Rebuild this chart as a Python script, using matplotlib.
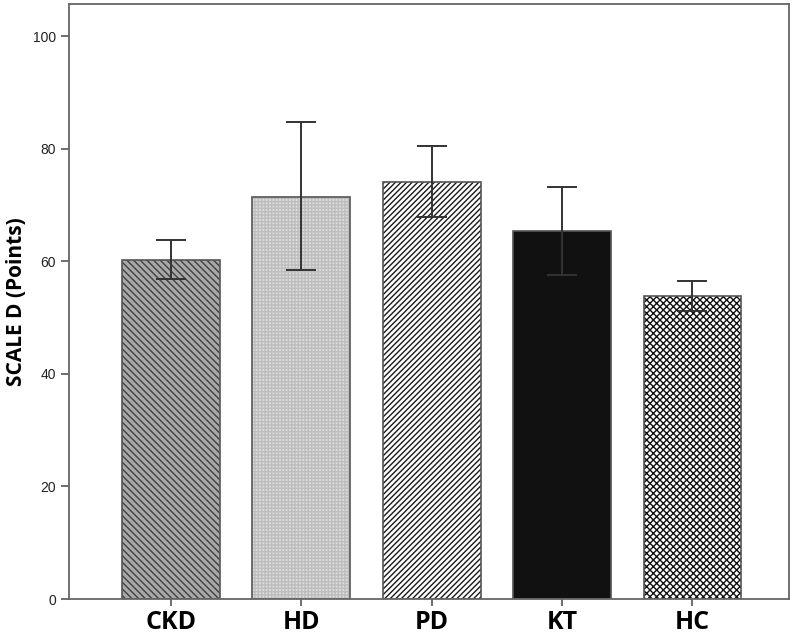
import matplotlib
matplotlib.use("Agg")
import matplotlib.pyplot as plt
import numpy as np

categories = ["CKD", "HD", "PD", "KT", "HC"]
means = [60.2, 71.5, 74.1, 65.4, 53.8]
ci_low = [56.8, 58.4, 67.9, 57.5, 51.2]
ci_high = [63.7, 84.7, 80.5, 73.2, 56.5]
yticks = [0, 20, 40, 60, 80, 100]

faces = ["#a8a8a8", "#dcdcdc", "#ffffff", "#111111", "#ffffff"]
hatches = ["\\\\\\\\\\", "+++++", "//////", "", "xxxxx"]
hcolors = ["#404040", "#bdbdbd", "#1a1a1a", "#111111", "#111111"]

fig = plt.figure(figsize=(8, 6.34), dpi=100)
ax = fig.add_axes([0.08625, 0.0552, 0.9, 0.9385])

x = np.arange(len(categories))
for i in range(len(categories)):
    plt.rcParams['hatch.color'] = hcolors[i]
    ax.bar(x[i], means[i], width=0.75, color=faces[i], edgecolor="#555555",
           linewidth=1.2, hatch=hatches[i], zorder=2)
    ax.patches[-1]._hatch_color = matplotlib.colors.to_rgba(hcolors[i])

err = [np.array(means) - np.array(ci_low), np.array(ci_high) - np.array(means)]
ax.errorbar(x, means, yerr=err, fmt="none", ecolor="#333333", elinewidth=1.4,
            capsize=11, capthick=1.4, zorder=3)

ax.set_xlim(-0.78, 4.74)
ax.set_ylim(0, 105.7)
ax.set_yticks(yticks)
ax.set_yticklabels([str(t) for t in yticks], fontsize=10, family="Liberation Sans", color="#222222")
ax.set_xticks(x)
ax.set_xticklabels(categories, fontsize=18, fontweight="bold", family="Open Sans")
ax.tick_params(axis="y", length=6, width=1.2, color="#555555", direction="out")
ax.tick_params(axis="x", length=5, width=1.2, color="#555555", direction="out", pad=3)
for s in ax.spines.values():
    s.set_color("#666666")
    s.set_linewidth(1.3)
ax.set_ylabel("SCALE D (Points)", fontsize=15, fontweight="bold", family="Open Sans")
ax.yaxis.set_label_coords(-0.058, 0.5)

fig.savefig("out.png", dpi=100)
